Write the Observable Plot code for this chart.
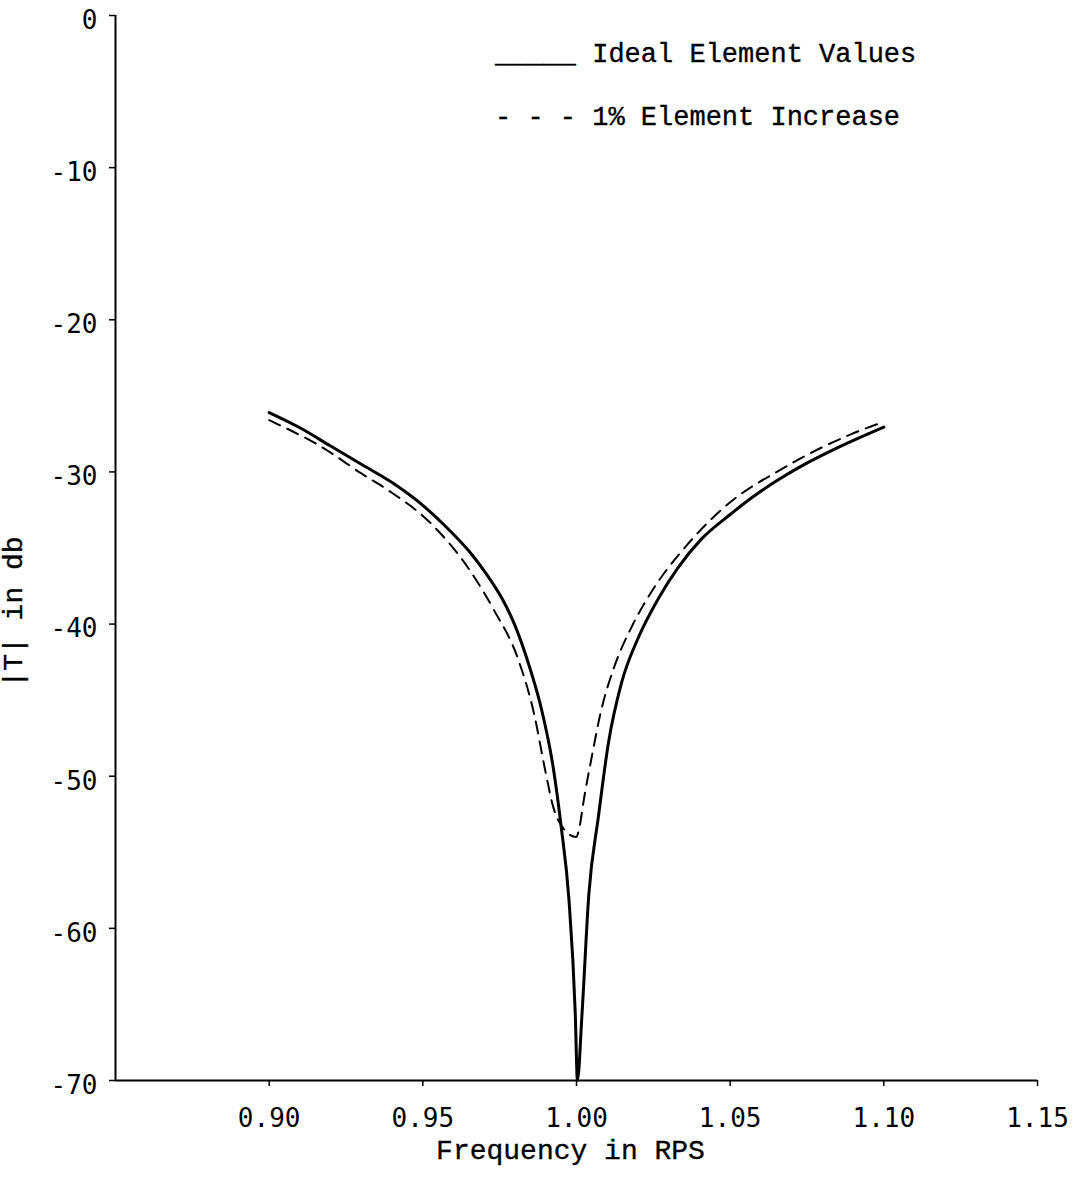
<!DOCTYPE html>
<html><head><meta charset="utf-8">
<script src="https://cdn.jsdelivr.net/npm/d3@7"></script>
<script src="https://cdn.jsdelivr.net/npm/@observablehq/plot@0.6"></script>
<style>
body{margin:0;background:#fff}
#wrap{position:relative;width:1083px;height:1196px;background:#fff}
.leg{position:absolute;left:495px;font-family:"Liberation Mono",monospace;font-size:27px;-webkit-text-stroke:0.35px #000;white-space:pre;line-height:1;color:#000}
.ylab{position:absolute;left:15px;top:612px;transform:translate(-50%,-50%) rotate(-90deg);font-family:"Liberation Mono",monospace;font-size:28px;-webkit-text-stroke:0.35px #000;white-space:pre;line-height:1;color:#000}
</style>
</head><body><div id="wrap"></div>
<script>
// Axis settings
const xDomain = [0.85, 1.15];
const yDomain = [-70, 0];
const xTicks = [0.90, 0.95, 1.00, 1.05, 1.10, 1.15];
const yTicks = [0, -10, -20, -30, -40, -50, -60, -70];
const xLabel = "Frequency in RPS";
const yLabel = "|T| in db";
const seriesNames = ["Ideal Element Values", "1% Element Increase"];

// Ideal element values
const freqIdeal = [0.900,0.910,0.920,0.930,0.940,0.950,0.958,0.965,0.971,0.976,0.980,0.985,0.9885,0.9924,0.995,0.9975,0.9996,1.0003,1.0018,1.0040,1.0071,1.0104,1.0146,1.0201,1.0267,1.0330,1.0407,1.050,1.057,1.065,1.0733,1.085,1.100];
const dbIdeal   = [-26.1,-27.1,-28.3,-29.5,-30.7,-32.2,-33.7,-35.2,-36.8,-38.4,-40.1,-43.0,-45.5,-49.4,-53.3,-58.0,-65.6,-70.0,-65.6,-57.8,-52.7,-47.8,-43.9,-40.9,-38.3,-36.3,-34.4,-32.8,-31.7,-30.6,-29.6,-28.4,-27.05];

// 1% element increase
const freqIncrease = [0.900,0.9178,0.930,0.9387,0.9527,0.9647,0.9732,0.981,0.9862,0.990,0.9924,0.996,0.9999,1.0009,1.0025,1.0048,1.008,1.0123,1.0179,1.0234,1.0364,1.0482,1.0677,1.0896,1.100];
const dbIncrease   = [-26.6,-28.45,-30.1,-31.2,-33.4,-36.3,-39.1,-42.3,-45.9,-49.8,-52.0,-53.5,-54.0,-53.4,-51.4,-48.9,-45.7,-42.8,-40.2,-38.2,-34.7,-32.3,-29.7,-27.5,-26.7];

const ideal = freqIdeal.map((f,i)=>({f, db: dbIdeal[i]}));
const increase = freqIncrease.map((f,i)=>({f, db: dbIncrease[i]}));

const tickFont = "DejaVu Sans Mono, monospace";
const labelFont = "Liberation Mono, monospace";

const chart = Plot.plot({
  width: 1083,
  height: 1196,
  marginLeft: 115,
  marginRight: 46,
  marginTop: 15,
  marginBottom: 116,
  style: {fontFamily: tickFont, fontSize: "26px", color: "#000", background: "#fff"},
  x: {domain: xDomain},
  y: {domain: yDomain},
  marks: [
    Plot.axisX({ticks: xTicks, tickFormat: d => d.toFixed(2), tickSize: 6, tickPadding: 22, label: null, fontSize: 26, strokeWidth: 1.5}),
    Plot.axisY({ticks: yTicks, tickFormat: () => "", tickSize: 6, label: null, strokeWidth: 1.5}),
    Plot.text(yTicks, {x: () => xDomain[0], y: d => d, text: d => String(d), textAnchor: "end", dx: -18, dy: 5, fontSize: 26, fontFamily: tickFont}),
    Plot.ruleX([xDomain[0]], {strokeWidth: 2}),
    Plot.ruleY([yDomain[0]], {strokeWidth: 2}),
    Plot.line(ideal, {x: "f", y: "db", stroke: "#000", strokeWidth: 3, curve: "monotone-x"}),
    Plot.line(increase, {x: "f", y: "db", stroke: "#000", strokeWidth: 2, strokeDasharray: "12,8", curve: "monotone-x"}),
    Plot.text([xLabel], {frameAnchor: "bottom", dy: 70, dx: -6, fontFamily: labelFont, fontSize: 28, stroke: "#000", strokeWidth: 0.35, fill: "#000", lineAnchor: "middle"})
  ]
});
const wrap = document.getElementById("wrap");
wrap.appendChild(chart);
const l1 = document.createElement("div");
l1.className = "leg"; l1.style.top = "42px";
l1.textContent = "_____ " + seriesNames[0];
const l2 = document.createElement("div");
l2.className = "leg"; l2.style.top = "105px";
l2.textContent = "- - - " + seriesNames[1];
const yl = document.createElement("div");
yl.className = "ylab"; yl.textContent = yLabel;
wrap.appendChild(l1); wrap.appendChild(l2); wrap.appendChild(yl);
</script>
</body></html>
